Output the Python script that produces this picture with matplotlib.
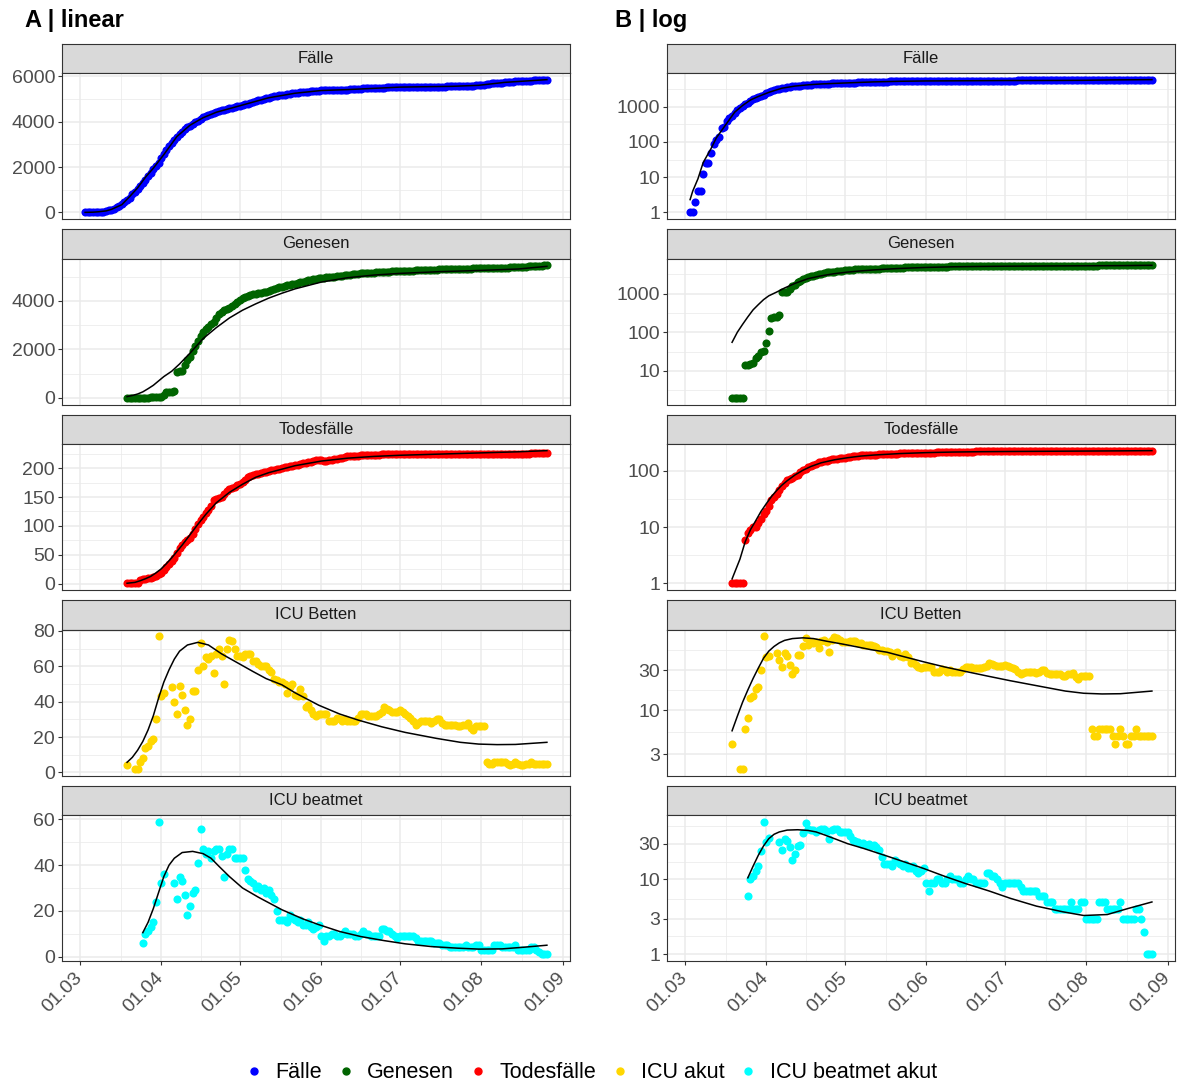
import matplotlib
matplotlib.use('Agg')
import matplotlib.pyplot as plt
import matplotlib.dates as mdates
from matplotlib.lines import Line2D
from matplotlib.ticker import FixedLocator, MultipleLocator, NullFormatter, FuncFormatter
import numpy as np
import pandas as pd

plt.rcParams['font.family'] = ['Liberation Sans', 'DejaVu Sans']

nan = np.nan
day0 = pd.Timestamp('2020-03-03')

# Fälle, kumulativ, ab 03.03.
faelle_first = 0
faelle = [1, 1, 2, 4, 4, 12, 25, 25, 48, 85,
          110, 140, 250, 270, 390, 480, 560, 650, 790, 900,
          1050, 1160, 1300, 1450, 1600, 1750, 1900, 2040, 2200, 2380,
          2560, 2740, 2910, 3080, 3200, 3330, 3450, 3560, 3660, 3750,
          3830, 3900, 3970, 4050, 4120, 4190, 4240, 4290, 4340, 4380,
          4420, 4460, 4500, 4530, 4560, 4590, 4620, 4650, 4680, 4710,
          4740, 4770, 4800, 4830, 4860, 4900, 4940, 4970, 5000, 5040,
          5070, 5100, 5120, 5140, 5160, 5180, 5200, 5220, 5240, 5250,
          5270, 5280, 5300, 5310, 5320, 5330, 5340, 5350, 5370, 5380,
          5385, 5390, 5395, 5400, 5400, 5405, 5410, 5410, 5415, 5420,
          5420, 5425, 5430, 5440, 5450, 5460, 5470, 5475, 5480, 5485,
          5490, 5495, 5500, 5505, 5510, 5515, 5520, 5520, 5525, 5530,
          5530, 5530, 5535, 5535, 5535, 5540, 5540, 5540, 5540, 5545,
          5545, 5545, 5550, 5550, 5550, 5550, 5555, 5555, 5560, 5560,
          5565, 5570, 5575, 5580, 5580, 5585, 5590, 5595, 5600, 5605,
          5610, 5620, 5630, 5650, 5670, 5690, 5700, 5710, 5720, 5730,
          5740, 5750, 5760, 5770, 5780, 5790, 5800, 5805, 5810, 5815,
          5820, 5825, 5830, 5835, 5840, 5850, 5860]
faelle_fit_day = [0, 1, 3, 5, 8, 10, 14, 17, 20, 23, 26, 30, 35, 40, 45, 50,
                  60, 70, 80, 90, 100, 120, 140, 150, 160, 176]
faelle_fit = [2.3, 4, 9, 26, 65, 130, 340, 700, 1080, 1550, 1950, 2550, 3350, 3850, 4180, 4420,
              4740, 5060, 5260, 5380, 5420, 5530, 5565, 5610, 5740, 5860]

# Genesen, ab 19.03.
genesen_first = 16
genesen = [2, 2, 2, 2, 2, 14, 14, 15, 16, 22,
           25, 30, 33, 52, 110, 240, 245, 250, 280, 1080,
           1100, 1120, 1350, 1550, 1700, 1950, 2150, 2350, 2550, 2700,
           2850, 2940, 3030, 3150, 3300, 3450, 3560, 3620, 3680, 3720,
           3780, 3860, 3960, 4050, 4120, 4180, 4220, 4260, 4290, 4300,
           4320, 4340, 4360, 4390, 4420, 4450, 4480, 4520, 4560, 4590,
           4620, 4650, 4670, 4690, 4720, 4750, 4780, 4800, 4830, 4850,
           4870, 4890, 4910, 4940, 4950, 4960, 4970, 4985, 5000, 5010,
           5020, 5035, 5050, 5065, 5080, 5090, 5100, 5115, 5130, 5135,
           5140, 5150, 5160, 5165, 5170, 5180, 5185, 5190, 5200, 5210,
           5215, 5220, 5225, 5230, 5235, 5240, 5250, 5252, 5255, 5258,
           5262, 5266, 5270, 5274, 5278, 5282, 5286, 5290, 5296, 5302,
           5310, 5312, 5315, 5318, 5320, 5322, 5325, 5328, 5330, 5333,
           5336, 5340, 5343, 5347, 5350, 5352, 5355, 5357, 5360, 5362,
           5365, 5368, 5371, 5374, 5378, 5382, 5390, 5395, 5400, 5405,
           5410, 5415, 5420, 5425, 5430, 5440, 5450, 5455, 5460, 5470,
           5480]
genesen_fit_day = [16, 18, 20, 22, 24, 26, 28, 30, 33, 36, 40, 45, 50, 55, 60, 65,
                   70, 75, 80, 90, 100, 110, 120, 135, 150, 165, 176]
genesen_fit = [55, 100, 160, 250, 380, 520, 700, 880, 1100, 1400, 1850, 2450, 2900, 3300, 3620, 3880,
               4120, 4320, 4500, 4780, 4960, 5070, 5140, 5210, 5260, 5320, 5430]

# Todesfälle, ab 19.03.
tod_first = 16
tod = [1, 1, 1, 1, 1, 6, 8, 9, 10, 10,
       12, 14, 17, 19, 24, 30, 34, 39, 45, 54,
       62, 68, 72, 76, 80, 86, 95, 104, 110, 116,
       122, 128, 135, 145, 147, 148, 150, 155, 160, 163,
       165, 168, 170, 172, 176, 180, 184, 186, 188, 189,
       190, 192, 193, 194, 195, 196, 197, 198, 199, 200,
       201, 202, 203, 204, 205, 206, 207, 208, 209, 210,
       211, 212, 213, 213, 213, 212, 212, 213, 214, 215,
       216, 217, 218, 219, 220, 220, 220, 221, 221, 222,
       222, 222, 222, 223, 223, 223, 223, 224, 224, 224,
       224, 224, 224, 225, 225, 225, 225, 225, 225, 225,
       225, 225, 225, 225, 225, 225, 225, 225, 225, 225,
       225, 225, 225, 225, 225, 225, 225, 225, 225, 225,
       225, 225, 225, 225, 225, 225, 225, 225, 225, 225,
       225, 225, 225, 225, 225, 225, 225, 225, 225, 225,
       225, 225, 225, 225, 226, 226, 226, 226, 226, 226,
       226]
tod_fit_day = [16, 19, 21, 23, 25, 27, 29, 31, 33, 35, 37, 40, 43, 46, 50, 55,
               60, 65, 70, 75, 80, 90, 100, 110, 120, 135, 150, 165, 176]
tod_fit = [1.2, 2.7, 5.5, 9, 13, 19, 26, 35, 45, 56, 67, 85, 103, 120, 140, 158,
           172, 184, 192, 198, 204, 212, 217, 220, 222, 224, 226, 228, 230]

# ICU Betten (akut), ab 19.03.
betten_first = 16
betten = [4, nan, nan, 2, 2, 6, 8, 14, 15, 18,
          19, 30, 77, 43, 45, nan, nan, 48, 40, 33,
          49, 44, 35, 27, 30, 46, 46, 58, 73, 60,
          65, 64, 66, 56, 67, 70, 66, 50, 70, 75,
          74, 70, 66, 66, 65, 67, 67, 67, 63, 63,
          61, 60, 60, 60, 58, 57, 53, 52, 51, 51,
          50, 45, 48, 50, 44, 43, 47, 43, 37, 38,
          35, 33, 32, 33, 33, 33, 33, 29, 29, 29,
          31, 30, 29, 30, 29, 29, 29, 29, 31, 33,
          33, 33, 32, 32, 32, 32, 33, 34, 37, 36,
          35, 34, 34, 34, 35, 34, 33, 32, 31, 29,
          27, 28, 29, 29, 29, 29, 28, 29, 30, 30,
          28, 27, 27, 27, 27, 27, 26, 26, 27, 27,
          28, 25, 24, 26, 26, 26, 26, 6, 5, 5,
          6, 6, 6, 6, 6, 5, 4, 5, 6, 5,
          4, 4, 5, 5, 6, 5, 5, 5, 5, 5,
          5]
betten_fit_day = [16, 18, 20, 22, 24, 26, 28, 30, 32, 34, 36, 39, 43, 47, 52, 58,
                  64, 69, 75, 80, 89, 97, 104, 113, 122, 134, 143, 150, 157, 164, 176]
betten_fit = [5.7, 8.5, 12.5, 17.5, 24, 32, 42, 51, 58, 64, 68.5, 72, 73.5, 72, 67, 62,
              57, 53, 49.5, 45, 38, 33, 29.6, 25.8, 22.6, 19.2, 17, 16, 15.7, 15.8, 17]

# ICU beatmet (akut), ab 25.03.
beatmet_first = 22
beatmet = [6, 10, 11, 13, 15, 24, 59, 32, 36, nan,
           nan, nan, 32, 25, 35, 33, 27, 18, 22, 28,
           29, 41, 56, 47, 45, 46, 43, 46, 47, 47,
           44, 35, 45, 47, 47, 43, 43, 43, 43, 38,
           34, 33, 32, 30, 31, 29, 30, 28, 29, 27,
           25, 20, 16, 16, 16, 15, 18, 17, 16, 15,
           16, 14, 14, 15, 13, 12, 13, 14, 9, 7,
           9, 9, 10, 10, 9, 9, 10, 11, 10, 10,
           10, 9, 9, 10, 11, 10, 10, 9, 9, 9,
           9, 12, 12, 11, 11, 10, 9, 8, 9, 9,
           9, 9, 9, 9, 8, 7, 7, 7, 7, 7,
           7, 6, 6, 6, 5, 5, 5, 4, 4, 4,
           4, 4, 4, 5, 4, 4, 4, 5, 5, 3,
           3, 3, 3, 3, 5, 5, 5, 4, 4, 4,
           4, 4, 5, 3, 3, 3, 3, 3, 4, 4,
           3, 2, 1, 1, 1]
beatmet_fit_day = [22, 24, 26, 28, 30, 32, 34, 37, 41, 45, 48, 51, 55, 60, 66, 75,
                   83, 89, 97, 105, 114, 122, 132, 142, 150, 159, 167, 176]
beatmet_fit = [10.5, 15, 21, 28, 35, 40, 43, 45.5, 46, 45, 43, 39.5, 35, 30, 26, 20.5,
               16.5, 14, 11, 8.8, 7, 5.6, 4.4, 3.7, 3.3, 3.4, 4.1, 5]

strip_labels = ['Fälle', 'Genesen', 'Todesfälle', 'ICU Betten', 'ICU beatmet']
legend_labels = ['Fälle', 'Genesen', 'Todesfälle', 'ICU akut', 'ICU beatmet akut']
colors = ['#0000FF', '#006400', '#FF0000', '#FFD700', '#00FFFF']
lin_ticks = [[0, 2000, 4000, 6000], [0, 2000, 4000], [0, 50, 100, 150, 200],
             [0, 20, 40, 60, 80], [0, 20, 40, 60]]
log_ticks = [[1, 10, 100, 1000], [10, 100, 1000], [1, 10, 100], [3, 10, 30], [1, 3, 10, 30]]

series = [
    (faelle_first, faelle, faelle_fit_day, faelle_fit),
    (genesen_first, genesen, genesen_fit_day, genesen_fit),
    (tod_first, tod, tod_fit_day, tod_fit),
    (betten_first, betten, betten_fit_day, betten_fit),
    (beatmet_first, beatmet, beatmet_fit_day, beatmet_fit),
]

W, H = 1180, 1084
fig = plt.figure(figsize=(W / 100, H / 100), dpi=100)


def box(x0, y0, x1, y1):
    return [x0 / W, 1 - y1 / H, (x1 - x0) / W, (y1 - y0) / H]


def to_dates(first, n):
    return day0 + pd.to_timedelta(np.arange(first, first + n), unit='D')


all_dates = to_dates(0, len(faelle))
pad = (all_dates[-1] - all_dates[0]) * 0.05
xlim = (mdates.date2num(all_dates[0] - pad), mdates.date2num(all_dates[-1] + pad))
months = pd.date_range('2020-03-01', '2020-09-01', freq='MS')
major_x = mdates.date2num(months)
minor_x = (major_x[:-1] + major_x[1:]) / 2

strip_tops = [43.5, 229, 414.5, 600, 785.5]
strip_h = 29.5
panel_h = 146
columns = [(62, 570, False), (667, 1175, True)]
border = '#333333'

for x0, x1, use_log in columns:
    for i, (first, vals, fit_day, fit_vals) in enumerate(series):
        st = strip_tops[i]
        # Streifen oben
        sax = fig.add_axes(box(x0, st, x1, st + strip_h))
        sax.set_facecolor('#D9D9D9')
        sax.set_xticks([])
        sax.set_yticks([])
        for s in sax.spines.values():
            s.set_color(border)
            s.set_linewidth(0.8)
        sax.text(0.5, 0.5, strip_labels[i], ha='center', va='center', fontsize=12, color='#1A1A1A')

        ax = fig.add_axes(box(x0, st + strip_h, x1, st + strip_h + panel_h))
        d = to_dates(first, len(vals))
        fd = day0 + pd.to_timedelta(fit_day, unit='D')
        ax.scatter(d, vals, s=34, color=colors[i], linewidths=0, zorder=2)
        ax.plot(fd, fit_vals, color='black', lw=1.1, zorder=3)

        ticks = log_ticks[i] if use_log else lin_ticks[i]
        if use_log:
            ax.set_yscale('log')
            minor = [ticks[0] / np.sqrt(ticks[1] / ticks[0])]
            minor += [np.sqrt(a * b) for a, b in zip(ticks[:-1], ticks[1:])]
            minor += [ticks[-1] * np.sqrt(ticks[-1] / ticks[-2])]
            ax.yaxis.set_major_locator(FixedLocator(ticks))
            ax.yaxis.set_minor_locator(FixedLocator(minor))
            ax.yaxis.set_major_formatter(FuncFormatter(lambda v, p: '%g' % v))
            ax.yaxis.set_minor_formatter(NullFormatter())
        else:
            step = ticks[1] - ticks[0]
            ax.yaxis.set_major_locator(FixedLocator(ticks))
            ax.yaxis.set_minor_locator(MultipleLocator(step / 2))
        ax.margins(y=0.05)
        ax.set_xlim(xlim)
        ax.xaxis.set_major_locator(FixedLocator(major_x))
        ax.xaxis.set_minor_locator(FixedLocator(minor_x))

        ax.set_axisbelow(True)
        ax.grid(which='major', color='#EBEBEB', lw=1.1)
        ax.grid(which='minor', color='#EBEBEB', lw=0.55)
        for s in ax.spines.values():
            s.set_color(border)
            s.set_linewidth(0.8)
        ax.tick_params(which='major', length=3, width=0.8, color=border,
                       labelsize=14, labelcolor='#4D4D4D', pad=2)
        ax.tick_params(which='minor', length=0)

        if i == 4:
            ax.tick_params(axis='x', pad=7)
            ax.xaxis.set_major_formatter(mdates.DateFormatter('%d.%m'))
            for lab in ax.get_xticklabels():
                lab.set_rotation(45)
                lab.set_ha('right')
                lab.set_va('center')
                lab.set_rotation_mode('anchor')
        else:
            ax.tick_params(axis='x', which='both', length=0, labelbottom=False)

fig.text(25 / W, 1 - 21 / H, 'A | linear', fontsize=17, fontweight='bold', va='center')
fig.text(615 / W, 1 - 21 / H, 'B | log', fontsize=17, fontweight='bold', va='center')

handles = [Line2D([], [], marker='o', ls='', color=c, markersize=5) for c in colors]
fig.legend(handles, legend_labels, loc='center', bbox_to_anchor=(0.5, 1 - 1073 / H), ncol=5,
           frameon=False, fontsize=15.5, handletextpad=0.5, columnspacing=0.6, handlelength=1.0)

plt.savefig('out.png', dpi=100)
plt.close()
